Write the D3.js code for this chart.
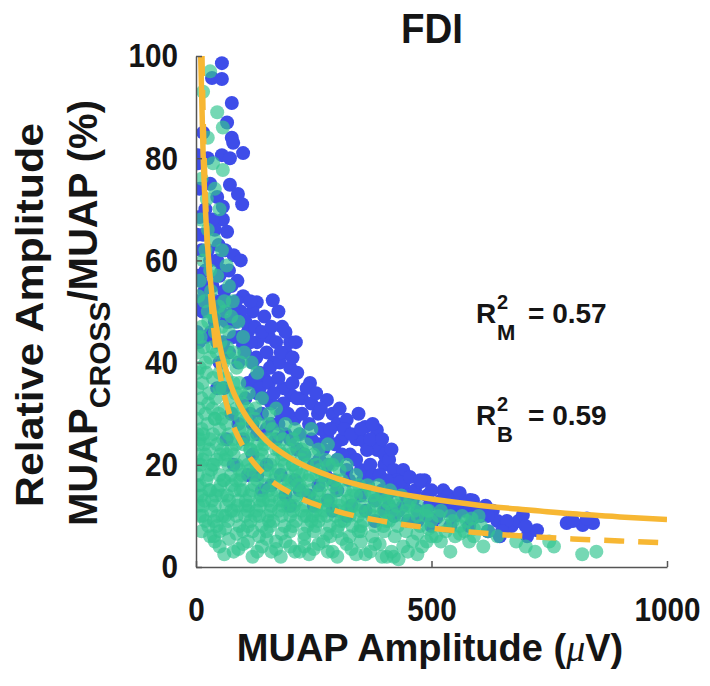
<!DOCTYPE html>
<html>
<head>
<meta charset="utf-8">
<script src="https://cdn.jsdelivr.net/npm/d3@7"></script>
<style>
  body { margin: 0; background: #fff; }
  text { font-family: "Liberation Sans", Arial, sans-serif; font-weight: bold; fill: #151515; }
</style>
</head>
<body>
<div id="chart"></div>
<script>
// axis ticks
const xTicks = [0, 500, 1000];
const yTicks = [0, 20, 40, 60, 80, 100];

// monopolar (blue) points, [amplitude uV, relative amplitude %]
const blueData = [
  [55,98.6],[34,95.7],[55,95.5],[76,90.8],[66,87],[76,84],[79,83],[100,81],[55,80.6],[72,80],[4,80.6],[4,79],
  [72,74.8],[89,73],[98,71],[45,72.4],[57,70.5],[57,68],[8,74],[8,68.5],[66,65.6],[2,65],[40,66],[48,63],
  [62,62],[80,61],[30,60],[20,58],[4,57],[10,56],[50,57],[70,58],[88,56],[95,60],[35,55],[60,54],[4,52],
  [14,50],[2,46],[6,44],
  [15,85],[25,80],[30,75],[20,70],[15,65],[25,62],[35,68],[45,60],[55,58],[12,62],[18,54],[28,52],[42,52],
  [52,50],[65,48],[32,46],[45,44],[58,44],
  [100,53],[129,51.8],[163,52.2],[120,50],[145,49],[183,47],[175,50],[110,46],[130,44],[100,43.4],[155,45],
  [200,44],[85,48],[144,37],[165,40],[157,39],[178,40],[200,39],[190,42],[215,38],[120,40],[135,38],[110,36],
  [90,40],[80,45],
  [65,52],[75,55],[85,52],[95,50],[105,48],[115,52],[125,47],[70,48],[80,50],[92,45],[104,42],[116,44],
  [128,41],[140,46],[150,42],[160,47],[170,44],[180,42],[190,46],[205,41],[212,44],
  [202,33.6],[242,36],[225,33],[259,30],[278,32.7],[290,30],[278,25.6],[300,28],[320,28.8],[310,25],[327,22],
  [340,25],[356,24.7],[359,27.4],[384,26.8],[385,22.9],[363,22.9],[390,23.5],[279,20],[260,24],[240,28],
  [220,26],[180,30],[160,32],[140,30],[130,34],[150,27],[200,25],[230,22],[250,20],[300,21],[320,19],[350,19],
  [370,20],[400,20],[345,30],[265,27],[210,29],[185,35],[170,25],
  [105,33],[115,30],[125,37],[135,35],[145,33],[155,36],[165,34],[175,37],[185,32],[195,30],[205,36],[215,33],
  [225,30],[235,35],[245,32],[255,34],[265,31],[120,28],[130,26],[160,28],[175,28],[190,26],[215,23],[245,25],
  [270,23],[285,27],[295,24],[305,31],[315,27],[330,26],[350,27],[370,25],[375,28],[395,25],[400,22],[410,21],
  [420,19],[440,19],[415,23],
  [262,21],[275,18],[290,17],[310,22],[325,17],[340,21],[355,17],[365,16],[375,18],[390,18],[405,14],[425,17],
  [440,16],[465,15],[485,17],[495,12],[515,12],[525,15],[535,14],[545,13],[555,12],[565,13],[575,12],[590,12],
  [605,10],[615,12],[630,11],[640,9],[655,8],[670,8],[685,9],
  [433,16.6],[454,17.6],[476,16.6],[476,17],[420,15],[445,14],[460,13],[491,14],[500,15],[520,13],[540,12],
  [560,14.5],[582,13.1],[588,13],[600,11],[570,11],[550,10],[588,9.6],[510,9.6],[530,11],[620,10],[645,6],
  [660,9],[694,10.2],[703,6],[724,7.2],[787,8.6],[821,8.2],[843,8.6],[800,9],[830,9.5],[470,11],[490,10],
  [410,12],[430,11],[405,17],[395,15],
  [150,20],[180,18],[210,17],[260,16],[300,15],[350,14],[380,13],[330,12],[280,13],[240,14],[120,22],[100,25],
  [90,28],[75,30],[60,35],[50,40],[70,42],[40,48],[30,50],[20,45],[45,35],[65,25],[110,18],[140,15],[200,12],
  [420,10],[450,9],[380,9],
  [80,20],[130,18],[160,16],[190,14],[220,15],[250,12],[290,11],[320,10],[360,11],[400,11],[440,12],[470,9],
  [500,8],[540,8],[580,8],[620,7],[650,7],[700,8]
];

// bipolar (green) points
const greenData = [
  [30,97],[15,93],[45,89],[57,86],[25,84],
  [36,79],[57,77.7],[23,72],[12,76],[40,74],[50,70],
  [10,68],[25,66],[40,64],[55,62],[15,60],[30,58],[45,57],[65,59],[8,56],[20,62],[70,55],
  [5,53],[18,52],[32,54],[48,51],[62,50],[78,52],[12,47],[26,48],[40,46],[55,47],[70,46],[90,48],[100,45],
  [4,42],[16,43],[30,41],[44,42],[58,40],[72,41],[86,39],[102,42],[118,40],[8,39],[22,38],[36,37],[50,38],[130,38],
  [10,45],[25,50],[38,49],[52,44],[66,43],[80,42],[95,40],[60,52],[75,49],[20,40],[35,43],[50,35],[65,37],
  [80,36],[95,34],[110,31],[12,33],[26,32],[40,29],[55,29],[85,31],[100,27],[3,45],[3,38],[3,26],[3,14],
  [3,35],[14,36],[28,34],[42,33],[56,35],[70,33],[84,34],[98,32],[112,34],[126,31],[140,33],[155,30],[170,31],
  [6,31],[20,30],[35,31],[48,30],[62,31],[78,30],[92,36],
  [2,29],[12,27],[24,28],[36,26],[50,27],[64,28],[78,25],[92,27],[106,29],[120,26],[134,28],[148,25],[162,27],
  [176,26],[190,28],[205,25],[220,26],[8,25],[18,24],[30,25],[45,24],[58,25],[85,24],[100,24],[115,23],[140,23],
  [170,23],[198,23],[235,24],
  [15,26],[40,29],[70,26],[95,29],[125,29],[155,28],[185,25],[210,27],[245,27],
  [5,24],[28,23],[52,22],[75,23],[110,25],[130,24],[160,25],[185,22],[210,24],[225,23],[260,23],[280,24],
  [2,22],[10,20],[20,22],[32,19],[44,21],[56,23],[68,20],[80,22],[92,19],[104,21],[116,23],[128,20],[140,22],
  [152,19],[164,21],[176,23],[188,20],[200,22],[212,19],[224,21],[236,20],[250,22],[262,19],[275,21],[290,20],
  [305,19],[4,18],[26,18],[50,18],[74,18],[98,18],[122,18],[146,18],[170,18],[194,18],[218,18],[242,18],[268,18],
  [6,20],[15,21],[38,20],[62,21],[86,20],[110,20],[134,21],[158,20],[182,21],[206,20],[230,22],[256,20],
  [282,20],[300,21],[320,20],[340,18],
  [3,16],[12,14],[22,17],[34,13],[46,15],[58,17],[70,13],[82,15],[94,17],[106,13],[118,15],[130,17],[142,13],
  [154,15],[166,17],[178,13],[190,15],[202,17],[214,13],[226,15],[238,17],[250,13],[262,15],[274,17],[286,13],
  [298,15],[310,17],[322,13],[334,15],[346,16],[358,14],[370,15],[382,13],[395,14],[408,12.5],[420,13],[5,12],
  [15,12],[40,12],[64,12],[88,12],[112,12],[136,12],[160,12],[184,12],[208,12],[232,12],[256,12],[280,12],
  [304,12],[328,12],
  [8,16],[28,15],[52,16],[76,16],[100,15],[124,16],[148,16],[172,15],[196,16],[220,16],[244,15],[268,16],
  [292,16],[316,15],[340,14],[364,16],[388,16],[412,15],[436,14],[455,13],
  [18,13],[42,14],[66,14],[90,13],[114,14],[138,14],[162,14],[186,13],[210,14],[234,14],[258,14],[282,14],
  [306,13],[330,14],[354,12],[378,12],[402,13],[426,12],[450,12],[470,12],[490,11],
  [35,20],[55,14],[75,11],[95,15],[115,19],[135,13],[155,9],[175,19],[195,12],[215,16],[235,10],[255,18],
  [275,13],[295,17],[315,9],[335,12],[60,17],[45,10],[120,7],[170,5],[230,4],[285,6],[30,15],[65,22],[145,24],
  [205,20],[265,10],[345,7],[375,14],[410,9],[125,10],[185,17],[245,9],[225,18],[155,13],[85,17],[105,12],
  [8,10],[20,9],[32,11],[44,8],[56,10],[68,9],[80,11],[92,8],[104,10],[116,9],[128,11],[140,8],[152,10],[164,9],
  [176,11],[188,8],[200,10],[212,9],[224,11],[236,8],[248,10],[260,9],[272,11],[284,8],[296,10],[308,9],[320,11],
  [332,8],[344,10],[356,9],[368,11],[380,8],[392,10],[404,9],[416,11],[428,8],[440,10],[452,9],[464,11],[476,8],
  [488,10],[500,9],[515,10],[530,8],[545,9],[560,8],[575,9],[590,7.5],[605,8],[620,7],[12,7],[50,7],[100,7],
  [150,7],[200,7],[250,7],[300,7],[350,7],[400,7],
  [14,10],[38,9],[62,10],[86,10],[110,11],[134,10],[158,11],[182,10],[206,11],[230,10],[254,11],[278,10],
  [302,11],[326,10],[350,11],[374,10],[398,11],[422,10],[446,11],[470,10],[494,11],[520,11],[540,10],[565,10],
  [585,9.5],[600,10],
  [26,8],[38,6],[62,7.5],[86,6.5],[110,8],[134,6],[158,8],[182,6.5],[206,8],[230,6.5],[254,8],[278,6.5],
  [302,8],[326,6],[350,8],[374,6],[398,8],[422,6],[446,7],[470,6.5],[494,7.5],[510,6],[530,7],[550,6],
  [570,7],[590,6],
  [30,6],[50,4],[70,5.5],[90,3.5],[110,5],[130,3],[150,5.5],[170,3.5],[190,5],[210,3],[230,5.5],[250,3.5],[270,5],
  [290,3],[310,5.5],[330,3.5],[350,5],[370,3],[390,4.5],[405,2],[415,3],[430,1.5],[440,4],[460,5],[480,4],[500,6],
  [520,5],[540,3],[560,6.5],[580,5],[610,4],[640,6],[680,5],[700,4],[720,3],[750,5],[760,4],[850,3],[820,2.5],
  [60,2.5],[120,2],[180,2],[240,2.5],[300,2],[360,2.5],
  [40,5],[80,3],[100,4.5],[140,4],[160,3],[200,4],[220,3],[260,4.5],[280,3],[320,4.5],[340,2.5],[380,4.5],
  [395,2],[420,2],[450,3],[470,2.5],[490,5]
];

// fitted curves: solid = monopolar, dashed = bipolar
const solidX = [10,15,20,30,40,50,75,100,150,200,300,400,500,600,700,800,900,1000];
const solidY = [100,81.2,69.9,56.7,48.9,43.6,35.3,30.5,24.7,21.3,17.3,14.9,13.3,12.1,11.2,10.4,9.8,9.3];
const dashX = [12.7,15,20,30,40,50,75,100,150,200,300,400,500,600,700,800,900,1000];
const dashY = [100,88.8,72.7,54.7,44.7,38.3,28.8,23.6,17.7,14.5,10.9,8.9,7.6,6.7,6.0,5.5,5.1,4.7];

const r2Subs = ["M", "B"];
const r2Vals = ["0.57", "0.59"];

const W = 710, H = 686;
const svg = d3.select("#chart").append("svg").attr("width", W).attr("height", H);

const x = d3.scaleLinear().domain([0, 1000]).range([196, 667]);
const y = d3.scaleLinear().domain([0, 100]).range([567, 56]);

svg.append("defs").append("clipPath").attr("id", "plotClip")
  .append("rect").attr("x", 196).attr("y", 50).attr("width", 471).attr("height", 517);

const plot = svg.append("g").attr("clip-path", "url(#plotClip)");

// blue first, translucent green over it
plot.append("g").selectAll("circle").data(blueData).enter().append("circle")
  .attr("cx", d => x(d[0])).attr("cy", d => y(d[1])).attr("r", 7)
  .attr("fill", "#3e4de9");
plot.append("g").selectAll("circle").data(greenData).enter().append("circle")
  .attr("cx", d => x(d[0])).attr("cy", d => y(d[1])).attr("r", 7)
  .attr("fill", "#33c591").attr("fill-opacity", 0.68);

const line = d3.line().x(d => x(d[0])).y(d => y(d[1])).curve(d3.curveMonotoneX);
plot.append("path").datum(d3.zip(dashX, dashY)).attr("d", line)
  .attr("fill", "none").attr("stroke", "#f7b733").attr("stroke-width", 5.5).attr("stroke-dasharray", "20,14");
plot.append("path").datum(d3.zip(solidX, solidY)).attr("d", line)
  .attr("fill", "none").attr("stroke", "#f7b733").attr("stroke-width", 5.5);

// axes, MATLAB style ticks pointing inwards
const styleAxis = g => {
  g.select(".domain").attr("stroke", "#555").attr("stroke-width", 1.5);
  g.selectAll(".tick line").attr("stroke", "#555").attr("stroke-width", 1.5);
  g.selectAll(".tick text").attr("font-size", 34).attr("fill", "#151515")
    .attr("font-family", "Liberation Sans, Arial, sans-serif").attr("font-weight", "bold")
    .attr("textLength", d => String(d).length * 16.5).attr("lengthAdjust", "spacingAndGlyphs");
};
svg.append("g").attr("transform", "translate(0,567)")
  .call(d3.axisBottom(x).tickValues(xTicks).tickFormat(d3.format("d"))
    .tickSizeInner(-6).tickSizeOuter(0).tickPadding(30))
  .call(styleAxis);
svg.append("g").attr("transform", "translate(196,0)")
  .call(d3.axisLeft(y).tickValues(yTicks).tickFormat(d3.format("d"))
    .tickSizeInner(-6).tickSizeOuter(0).tickPadding(18))
  .call(styleAxis);

// title
svg.append("text").attr("x", 432).attr("y", 43).attr("text-anchor", "middle")
  .attr("font-size", 42).attr("textLength", 62).attr("lengthAdjust", "spacingAndGlyphs").text("FDI");

// x label
const xl = svg.append("text").attr("x", 430).attr("y", 661).attr("text-anchor", "middle").attr("font-size", 38);
xl.append("tspan").text("MUAP Amplitude (");
xl.append("tspan").attr("font-family", "Liberation Serif, serif").attr("font-style", "italic")
  .attr("font-weight", "normal").text("\u03bc");
xl.append("tspan").text("V)");

// y label, two lines
svg.append("text").attr("transform", "translate(43,315) rotate(-90)").attr("text-anchor", "middle")
  .attr("font-size", 38).attr("textLength", 384).attr("lengthAdjust", "spacingAndGlyphs")
  .text("Relative Amplitude");
const yl = svg.append("text").attr("transform", "translate(97,313) rotate(-90)").attr("text-anchor", "middle")
  .attr("font-size", 40);
yl.append("tspan").text("MUAP");
yl.append("tspan").attr("font-size", 30).attr("dy", 13).text("CROSS");
yl.append("tspan").attr("dy", -13).text("/MUAP (%)");

// R squared notes
r2Subs.forEach((s, i) => {
  const by = 323 + i * 102;
  svg.append("text").attr("x", 476).attr("y", by).attr("font-size", 28).text("R");
  svg.append("text").attr("x", 497).attr("y", by - 14).attr("font-size", 20).text("2");
  svg.append("text").attr("x", 497).attr("y", by + 17).attr("font-size", 22).text(s);
  svg.append("text").attr("x", 528).attr("y", by).attr("font-size", 28).text("= " + r2Vals[i]);
});
</script>
</body>
</html>
